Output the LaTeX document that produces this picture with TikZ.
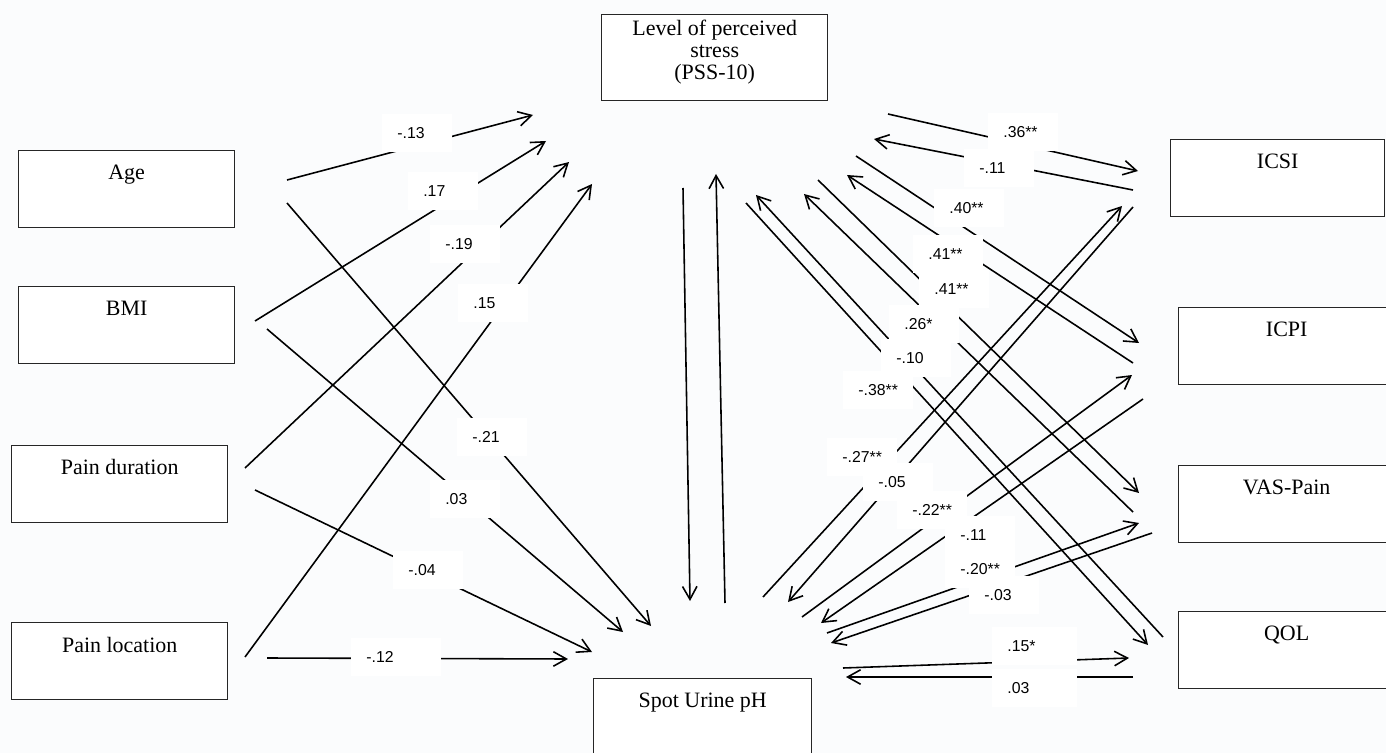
\documentclass[tikz,border=0pt]{standalone}
\usepackage{fontspec}
\setmainfont{Liberation Serif}
\setsansfont{Liberation Sans}
\usetikzlibrary{arrows.meta}

\definecolor{paper}{RGB}{251,252,253}

\begin{document}
\begin{tikzpicture}[
    x=0.02cm, y=-0.02cm, >={Straight Barb[length=2.6mm, width=2.9mm]},
    every edge/.style={draw, line width=0.9pt, ->},
    var/.style={draw=black!85, line width=0.8pt, fill=white, anchor=north west,
                minimum width=4.32cm, minimum height=1.54cm},
    vtxt/.style={anchor=north, inner sep=0pt, align=center, yshift=-8.2pt,
                 font=\rmfamily\fontsize{12.5}{12.4}\selectfont},
    coef/.style={fill=white, anchor=west, inner xsep=0.3cm, inner ysep=0pt,
                 minimum height=0.76cm, text width=0.8cm, align=left,
                 font=\sffamily\fontsize{9}{10}\selectfont},
    wcoef/.style={coef, text width=1.1cm}
]
    \useasboundingbox (0,0) rectangle (1386,753);
    \clip (0,0) rectangle (1386,753);
    \fill[paper] (0,0) rectangle (1386,753);

    % predictors
    \node[var, label={[vtxt]north:Age}]           (age) at (18,150) {};
    \node[var, label={[vtxt]north:BMI}]           (bmi) at (18,286) {};
    \node[var, label={[vtxt]north:Pain duration}] (dur) at (11,445) {};
    \node[var, label={[vtxt]north:Pain location}] (loc) at (11,622) {};

    % stress and urine pH
    \node[var, minimum width=4.52cm, minimum height=1.72cm,
          label={[vtxt, yshift=5pt]north:Level of perceived\\stress\\(PSS-10)}] (pss) at (601,14) {};
    \node[var, minimum width=4.36cm, label={[vtxt]north:Spot Urine pH}] (ph) at (593,678) {};

    % outcomes
    \node[var, minimum width=4.28cm, label={[vtxt]north:ICSI}] (icsi) at (1170,139) {};
    \node[var, label={[vtxt]north:ICPI}]     (icpi) at (1178,307) {};
    \node[var, label={[vtxt]north:VAS-Pain}] (vas)  at (1178,465) {};
    \node[var, label={[vtxt]north:QOL}]      (qol)  at (1178,611) {};

    % free ends of the paths
    \coordinate (age2pss-a) at (287,180);   \coordinate (age2pss-b) at (533,115);
    \coordinate (bmi2pss-a) at (255,321);   \coordinate (bmi2pss-b) at (546,141);
    \coordinate (dur2pss-a) at (245,468);   \coordinate (dur2pss-b) at (569,162);
    \coordinate (loc2pss-a) at (245,657);   \coordinate (loc2pss-b) at (592,184);
    \coordinate (age2ph-a)  at (287,203);   \coordinate (age2ph-b)  at (651,626);
    \coordinate (bmi2ph-a)  at (267,329);   \coordinate (bmi2ph-b)  at (623,632);
    \coordinate (dur2ph-a)  at (255,490);   \coordinate (dur2ph-b)  at (592,652);
    \coordinate (loc2ph-a)  at (267,658);   \coordinate (loc2ph-b)  at (568,659);
    \coordinate (pss2ph-a)  at (683,188);   \coordinate (pss2ph-b)  at (690,601);
    \coordinate (ph2pss-a)  at (725,603);   \coordinate (ph2pss-b)  at (716,174);
    \coordinate (pss2icsi-a) at (888,114);  \coordinate (pss2icsi-b) at (1138,171);
    \coordinate (icsi2pss-a) at (1133,190); \coordinate (icsi2pss-b) at (874,139);
    \coordinate (pss2icpi-a) at (856,156);  \coordinate (pss2icpi-b) at (1139,343);
    \coordinate (icpi2pss-a) at (1133,363); \coordinate (icpi2pss-b) at (847,175);
    \coordinate (pss2vas-a)  at (818,180);  \coordinate (pss2vas-b)  at (1139,493);
    \coordinate (vas2pss-a)  at (1133,512); \coordinate (vas2pss-b)  at (804,194);
    \coordinate (qol2pss-a)  at (1163,637); \coordinate (qol2pss-b)  at (756,195);
    \coordinate (pss2qol-a)  at (746,203);  \coordinate (pss2qol-b)  at (1148,645);
    \coordinate (ph2icsi-a)  at (763,597);  \coordinate (ph2icsi-b)  at (1122,206);
    \coordinate (icsi2ph-a)  at (1133,207); \coordinate (icsi2ph-b)  at (788,602);
    \coordinate (ph2icpi-a)  at (802,617);  \coordinate (ph2icpi-b)  at (1132,375);
    \coordinate (icpi2ph-a)  at (1143,399); \coordinate (icpi2ph-b)  at (821,623);
    \coordinate (ph2vas-a)   at (827,633);  \coordinate (ph2vas-b)   at (1139,523);
    \coordinate (vas2ph-a)   at (1152,533); \coordinate (vas2ph-b)   at (831,643);
    \coordinate (ph2qol-a)   at (843,668);  \coordinate (ph2qol-b)   at (1129,658);
    \coordinate (qol2ph-a)   at (1133,677); \coordinate (qol2ph-b)   at (846,677);

    \path
        (age2pss-a) edge (age2pss-b)
        (bmi2pss-a) edge (bmi2pss-b)
        (dur2pss-a) edge (dur2pss-b)
        (loc2pss-a) edge (loc2pss-b)
        (age2ph-a)  edge (age2ph-b)
        (bmi2ph-a)  edge (bmi2ph-b)
        (dur2ph-a)  edge (dur2ph-b)
        (loc2ph-a)  edge (loc2ph-b)
        (pss2ph-a)  edge (pss2ph-b)
        (ph2pss-a)  edge (ph2pss-b)
        (pss2icsi-a) edge (pss2icsi-b)
        (icsi2pss-a) edge (icsi2pss-b)
        (pss2icpi-a) edge (pss2icpi-b)
        (icpi2pss-a) edge (icpi2pss-b)
        (pss2vas-a)  edge (pss2vas-b)
        (vas2pss-a)  edge (vas2pss-b)
        (qol2pss-a)  edge (qol2pss-b)
        (pss2qol-a)  edge (pss2qol-b)
        (ph2icsi-a)  edge (ph2icsi-b)
        (icsi2ph-a)  edge (icsi2ph-b)
        (ph2icpi-a)  edge (ph2icpi-b)
        (icpi2ph-a)  edge (icpi2ph-b)
        (ph2vas-a)   edge (ph2vas-b)
        (vas2ph-a)   edge (vas2ph-b)
        (ph2qol-a)   edge (ph2qol-b)
        (qol2ph-a)   edge (qol2ph-b);

    % coefficients
    \node[coef] (age2pss-c) at (382,133) {-.13};
    \node[coef] (bmi2pss-c) at (408,191) {.17};
    \node[coef] (dur2pss-c) at (430,244) {-.19};
    \node[coef] (loc2pss-c) at (458,303) {.15};
    \node[coef] (age2ph-c)  at (457,437) {-.21};
    \node[coef] (bmi2ph-c)  at (430,499) {.03};
    \node[coef] (dur2ph-c)  at (393,570) {-.04};
    \node[wcoef, text width=1.2cm] (loc2ph-c) at (351,657) {-.12};
    \node[coef] (pss2icsi-c) at (988,132) {.36**};
    \node[coef] (icsi2pss-c) at (964,168) {-.11};
    \node[coef] (pss2icpi-c) at (934,208) {.40**};
    \node[coef] (icpi2pss-c) at (913,254) {.41**};
    \node[coef] (pss2vas-c)  at (919,289) {.41**};
    \node[coef] (vas2pss-c)  at (889,324) {.26*};
    \node[coef] (qol2pss-c)  at (881,358) {-.10};
    \node[coef] (pss2qol-c)  at (843,390) {-.38**};
    \node[coef] (ph2icsi-c)  at (827,457) {-.27**};
    \node[coef] (icsi2ph-c)  at (863,482) {-.05};
    \node[coef] (ph2icpi-c)  at (897,510) {-.22**};
    \node[coef] (icpi2ph-c)  at (945,535) {-.11};
    \node[coef] (ph2vas-c)   at (945,569) {-.20**};
    \node[coef] (vas2ph-c)   at (969,595) {-.03};
    \node[wcoef] (ph2qol-c)  at (992,646) {.15*};
    \node[wcoef] (qol2ph-c)  at (992,688) {.03};
\end{tikzpicture}
\end{document}
